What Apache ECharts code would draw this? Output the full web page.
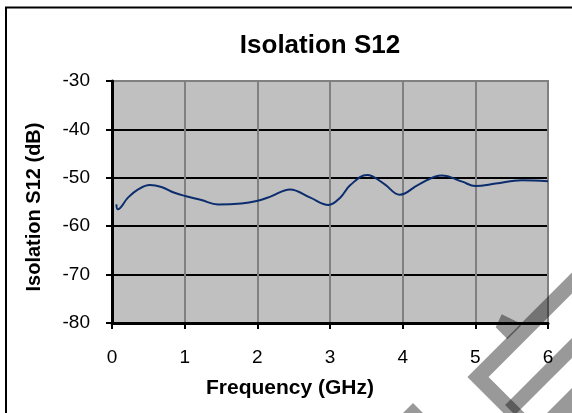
<!DOCTYPE html>
<html>
<head>
<meta charset="utf-8">
<script src="https://cdn.jsdelivr.net/npm/echarts@6/dist/echarts.min.js"></script>
<style>
  html, body { margin: 0; padding: 0; background: #fff; }
  #chart { width: 572px; height: 413px; }
</style>
</head>
<body>
<div id="chart"></div>
<script>
// frequency (GHz) and isolation S12 (dB)
var freq = [0.06, 0.08, 0.22, 0.36, 0.52, 0.68, 0.86, 1.02, 1.23, 1.46, 1.78, 1.99, 2.18, 2.45, 2.73, 2.98, 3.14, 3.28, 3.51, 3.74, 3.96, 4.22, 4.54, 4.82, 5.0, 5.28, 5.64, 6.0];
var s12 = [-55.5, -56.5, -54.1, -52.4, -51.5, -51.9, -53.1, -53.8, -54.6, -55.5, -55.3, -54.8, -53.9, -52.4, -54.1, -55.6, -54.1, -51.5, -49.4, -51.2, -53.5, -51.4, -49.5, -50.8, -51.7, -51.2, -50.5, -50.7];
var xTicks = { min: 0, max: 6, step: 1 };
var yTicks = { min: -80, max: -30, step: 10 };

var font = 'Liberation Sans, Arial, sans-serif';

var chart = echarts.init(document.getElementById('chart'));

var points = freq.map(function (f, i) { return [f, s12[i]]; });

// watermark shapes (grey logo in the corner)
var wm = { fill: '#000', opacity: 0.4 };

var option = {
  animation: false,
  backgroundColor: '#fff',
  title: {
    text: 'Isolation S12',
    left: 320,
    top: 33,
    padding: 0,
    textAlign: 'center',
    textStyle: { fontFamily: font, fontSize: 26, fontWeight: 'bold', color: '#000' }
  },
  grid: {
    left: 112,
    right: 24,
    top: 81,
    bottom: 90,
    show: true,
    backgroundColor: '#c0c0c0',
    borderColor: '#808080',
    borderWidth: 2
  },
  xAxis: {
    type: 'value',
    min: xTicks.min,
    max: xTicks.max,
    interval: xTicks.step,
    name: 'Frequency (GHz)',
    nameLocation: 'middle',
    nameGap: 55,
    nameTextStyle: { fontFamily: font, fontSize: 21, fontWeight: 'bold', color: '#000', padding: [0, 80, 0, 0] },
    axisLine: { onZero: false, lineStyle: { color: '#000', width: 3 } },
    axisTick: { show: true, length: 6, lineStyle: { color: '#000', width: 2 } },
    axisLabel: { margin: 25, fontFamily: font, fontSize: 19, color: '#000' },
    splitLine: { show: true, lineStyle: { color: '#808080', width: 2 } }
  },
  yAxis: {
    type: 'value',
    min: yTicks.min,
    max: yTicks.max,
    interval: yTicks.step,
    name: 'Isolation S12 (dB)',
    nameLocation: 'middle',
    nameGap: 68,
    nameTextStyle: { fontFamily: font, fontSize: 20, fontWeight: 'bold', color: '#000', padding: [0, 10, 0, 0] },
    axisLine: { show: true, onZero: false, lineStyle: { color: '#000', width: 3 } },
    axisTick: { show: true, length: 6, lineStyle: { color: '#000', width: 2 } },
    axisLabel: { margin: 22, fontFamily: font, fontSize: 19, color: '#000' },
    splitLine: { show: true, lineStyle: { color: ['#000', '#000', '#000', '#000', '#000', '#808080'], width: 2 } }
  },
  series: [{
    type: 'line',
    data: points,
    smooth: 0.4,
    showSymbol: false,
    lineStyle: { color: '#0b2d6e', width: 2 },
    z: 5
  }],
  graphic: [
    {
      type: 'rect',
      shape: { x: 6, y: 7.5, width: 620, height: 520 },
      style: { fill: 'none', stroke: '#000', lineWidth: 2 },
      silent: true
    },
    {
      type: 'polyline',
      shape: { points: [[585, 270], [478, 377], [520, 419]] },
      style: { fill: 'none', stroke: '#000', lineWidth: 15, opacity: 0.4, lineJoin: 'miter' },
      z: 100, silent: true
    },
    {
      type: 'polyline',
      shape: { points: [[510, 410], [590, 330]] },
      style: { fill: 'none', stroke: '#000', lineWidth: 14, opacity: 0.4 },
      z: 100, silent: true
    },
    {
      type: 'polygon',
      shape: { points: [[547, 413], [580, 380], [580, 420], [547, 420]] },
      style: wm, z: 100, silent: true
    },
    {
      type: 'polygon',
      shape: { points: [[501.7, 314.3], [517, 321.7], [521, 325.7], [507.5, 339.2], [495.7, 327.3]] },
      style: wm, z: 100, silent: true
    },
    {
      type: 'polygon',
      shape: { points: [[401, 415], [413, 403], [425, 415]] },
      style: wm, z: 100, silent: true
    }
  ]
};

chart.setOption(option);
</script>
</body>
</html>
